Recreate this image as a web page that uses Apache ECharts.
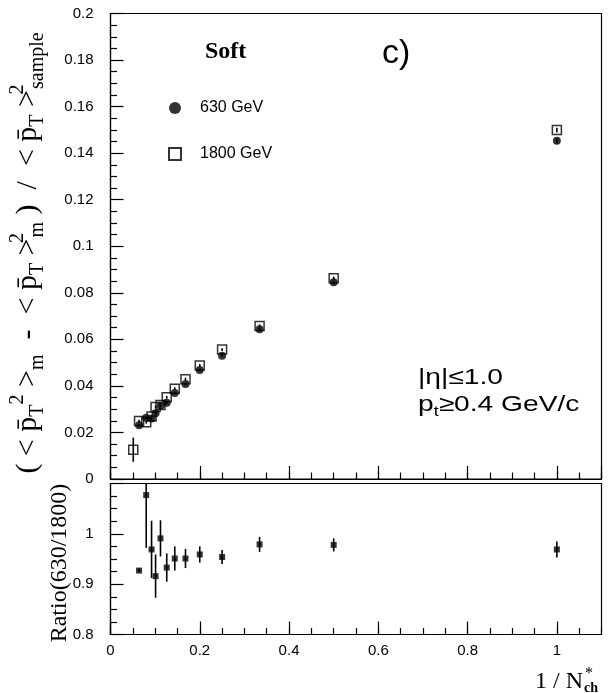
<!DOCTYPE html>
<html>
<head>
<meta charset="utf-8">
<script src="https://cdn.jsdelivr.net/npm/echarts@6/dist/echarts.min.js"></script>
<style>
  html, body { margin: 0; padding: 0; background: #fff; }
  #chart { width: 613px; height: 693px; }
</style>
</head>
<body>
<div id="chart"></div>
<script>
// 1/N*ch bins shared by both energies and the ratio
const invNch = [0.064, 0.080, 0.092, 0.101, 0.112, 0.126, 0.144, 0.168, 0.200, 0.250, 0.334, 0.500, 1.000];

// 630 GeV: scaled dispersion and its errors
const disp630 = [0.0231, 0.0263, 0.0260, 0.0283, 0.0315, 0.0328, 0.0369, 0.0408, 0.0468, 0.0530, 0.0643, 0.0845, 0.1453];
const err630 = [0.0006, 0.0006, 0.0006, 0.0006, 0.0006, 0.0006, 0.0006, 0.0006, 0.0006, 0.0006, 0.0007, 0.0008, 0.0010];

// 1800 GeV has one extra low-1/N bin
const invNch1800 = [0.051, 0.064, 0.080, 0.092, 0.101, 0.112, 0.126, 0.144, 0.168, 0.200, 0.250, 0.334, 0.500, 1.000];
const disp1800 = [0.0126, 0.0249, 0.0244, 0.0268, 0.0309, 0.0318, 0.0351, 0.0388, 0.0429, 0.0488, 0.0556, 0.0657, 0.0862, 0.1499];
const err1800 = [0.0052, 0.0006, 0.0006, 0.0006, 0.0006, 0.0006, 0.0006, 0.0006, 0.0006, 0.0006, 0.0006, 0.0007, 0.0008, 0.0010];

// ratio 630/1800
const ratio = [0.927, 1.077, 0.969, 0.916, 0.991, 0.933, 0.951, 0.951, 0.959, 0.954, 0.979, 0.978, 0.969];
const ratioErr = [0.003, 0.105, 0.057, 0.043, 0.036, 0.028, 0.024, 0.019, 0.016, 0.014, 0.015, 0.013, 0.016];

// axis ranges, labelled steps and minor steps
const xRange = [0, 1.1], xMajor = 0.2, xMinor = 0.05;
const yTopRange = [0, 0.2], yTopMajor = 0.02;
const yBotRange = [0.8, 1.1], yBotMajor = 0.1;

const legendNames = ['630 GeV', '1800 GeV'];

const BLACK = '#000';
const SANS = 'Liberation Sans, Arial, sans-serif';
const SERIF = 'Liberation Serif, Times New Roman, serif';
const tickLine = { color: BLACK, width: 1.2 };

const chart = echarts.init(document.getElementById('chart'), null, { renderer: 'canvas' });

function grid(top, height) {
  return { left: 110.5, top, width: 491, height, show: true, backgroundColor: 'transparent', borderColor: BLACK, borderWidth: 1.2 };
}

// bottom axis: one carries the labelled long ticks, its twin the short 0.05 ticks
function xAxis(gridIndex, step, tickLen, withLabels, withLine) {
  return {
    type: 'value', gridIndex, min: xRange[0], max: xRange[1], interval: step, position: 'bottom',
    splitLine: { show: false },
    axisLine: { show: withLine, lineStyle: tickLine },
    axisTick: { show: true, inside: true, length: tickLen, lineStyle: tickLine },
    axisLabel: { show: withLabels, showMaxLabel: false, margin: 9, color: BLACK, fontFamily: SANS, fontSize: 15 }
  };
}

function yAxis(gridIndex, range, step, showMax) {
  return {
    type: 'value', gridIndex, min: range[0], max: range[1], interval: step,
    splitLine: { show: false },
    axisLine: { show: true, lineStyle: tickLine },
    axisTick: { show: true, inside: true, length: 13, lineStyle: tickLine },
    minorTick: { show: true, splitNumber: 4, length: 6.5, lineStyle: tickLine },
    axisLabel: { showMaxLabel: showMax, margin: 17, color: BLACK, fontFamily: SANS, fontSize: 15 }
  };
}

// vertical error bars, cut at the panel's top edge
function errorBars(xs, ys, es, xAxisIndex, yAxisIndex, yMax) {
  return {
    type: 'custom', xAxisIndex, yAxisIndex,
    data: xs.map((x, i) => [x, ys[i] - es[i], Math.min(ys[i] + es[i], yMax)]),
    encode: { x: 0, y: [1, 2] },
    renderItem(params, api) {
      const lo = api.coord([api.value(0), api.value(1)]);
      const hi = api.coord([api.value(0), api.value(2)]);
      return {
        type: 'line',
        shape: { x1: lo[0], y1: lo[1], x2: hi[0], y2: hi[1] },
        style: { stroke: BLACK, lineWidth: 1.6 }
      };
    }
  };
}

const pBar = 'p\u0304';

const option = {
  backgroundColor: '#fff',
  animation: false,
  grid: [grid(13.5, 465.5), grid(483.5, 151)],
  xAxis: [
    xAxis(0, xMajor, 13, false, true), xAxis(0, xMinor, 6.5, false, false),
    xAxis(1, xMajor, 13, true, true), xAxis(1, xMinor, 6.5, false, false)
  ],
  yAxis: [yAxis(0, yTopRange, yTopMajor, true), yAxis(1, yBotRange, yBotMajor, false)],
  legend: {
    data: legendNames,
    orient: 'vertical', left: 163, top: 95,
    itemWidth: 12, itemHeight: 12, itemGap: 30,
    textStyle: { color: BLACK, fontFamily: SANS, fontSize: 16, padding: [0, 0, 0, 14] }
  },
  series: [
    errorBars(invNch1800, disp1800, err1800, 0, 0, yTopRange[1]),
    errorBars(invNch, disp630, err630, 0, 0, yTopRange[1]),
    {
      name: legendNames[1], type: 'scatter', xAxisIndex: 0, yAxisIndex: 0,
      symbol: 'rect', symbolSize: 9, z: 4,
      itemStyle: { color: 'rgba(255,255,255,0)', borderColor: BLACK, borderWidth: 1.5 },
      data: invNch1800.map((x, i) => [x, disp1800[i]])
    },
    {
      name: legendNames[0], type: 'scatter', xAxisIndex: 0, yAxisIndex: 0,
      symbol: 'circle', symbolSize: 8, z: 5,
      itemStyle: { color: BLACK },
      data: invNch.map((x, i) => [x, disp630[i]])
    },
    errorBars(invNch, ratio, ratioErr, 2, 1, yBotRange[1]),
    {
      name: 'ratio', type: 'scatter', xAxisIndex: 2, yAxisIndex: 1,
      symbol: 'rect', symbolSize: 6, z: 5,
      itemStyle: { color: BLACK },
      data: invNch.map((x, i) => [x, ratio[i]])
    }
  ],
  graphic: [
    {
      type: 'text', x: 28, y: 253, rotation: Math.PI / 2,
      style: {
        text: '{b|( < ' + pBar + '}{s|T}{p|2}{b| >}{s|m}{b|  -  < ' + pBar + '}{s|T}{b| >}{pw|2}{s|m}{b| )  /  < ' + pBar + '}{s|T}{b| >}{pw|2}{s|sample}',
        align: 'center', verticalAlign: 'middle', fill: BLACK,
        rich: {
          b: { fontFamily: SERIF, fontSize: 30, lineHeight: 40, fill: BLACK },
          s: { fontFamily: SERIF, fontSize: 20, lineHeight: 18, verticalAlign: 'bottom', fill: BLACK },
          p: { fontFamily: SERIF, fontSize: 20, lineHeight: 18, verticalAlign: 'top', fill: BLACK },
          pw: { fontFamily: SERIF, fontSize: 20, lineHeight: 18, verticalAlign: 'top', width: 1, fill: BLACK }
        }
      }
    },
    {
      type: 'text', x: 60, y: 563, rotation: Math.PI / 2,
      style: { text: 'Ratio(630/1800)', font: '24px ' + SERIF, fill: BLACK, align: 'center', verticalAlign: 'middle' }
    },
    {
      type: 'text', x: 205, y: 52,
      style: { text: 'Soft', font: 'bold 24px ' + SERIF, fill: BLACK, align: 'left', verticalAlign: 'middle' }
    },
    {
      type: 'text', x: 382, y: 54,
      style: { text: 'c)', font: '34px ' + SANS, fill: BLACK, align: 'left', verticalAlign: 'middle' }
    },
    {
      type: 'text', x: 418, y: 378, scaleX: 1.28,
      style: { text: '|\u03B7|\u22641.0', font: '22px ' + SANS, fill: BLACK, align: 'left', verticalAlign: 'middle' }
    },
    {
      type: 'text', x: 418, y: 405, scaleX: 1.28,
      style: {
        text: '{a|p}{t|t}{a|\u22650.4 GeV/c}',
        align: 'left', verticalAlign: 'middle', fill: BLACK,
        rich: {
          a: { fontFamily: SANS, fontSize: 22, lineHeight: 28, fill: BLACK },
          t: { fontFamily: SANS, fontSize: 14, lineHeight: 14, verticalAlign: 'bottom', fill: BLACK }
        }
      }
    },
    {
      type: 'text', x: 583, y: 682,
      style: { text: '1 / N', font: '24px ' + SERIF, fill: BLACK, align: 'right', verticalAlign: 'middle' }
    },
    {
      type: 'text', x: 585, y: 674,
      style: { text: '*', font: '16px ' + SERIF, fill: BLACK, align: 'left', verticalAlign: 'middle' }
    },
    {
      type: 'text', x: 584, y: 688,
      style: { text: 'ch', font: 'bold 14px ' + SERIF, fill: BLACK, align: 'left', verticalAlign: 'middle' }
    }
  ]
};

chart.setOption(option);
// repaint once the page has settled so every axis element is drawn
setTimeout(() => { chart.setOption(option, true); }, 30);
</script>
</body>
</html>
